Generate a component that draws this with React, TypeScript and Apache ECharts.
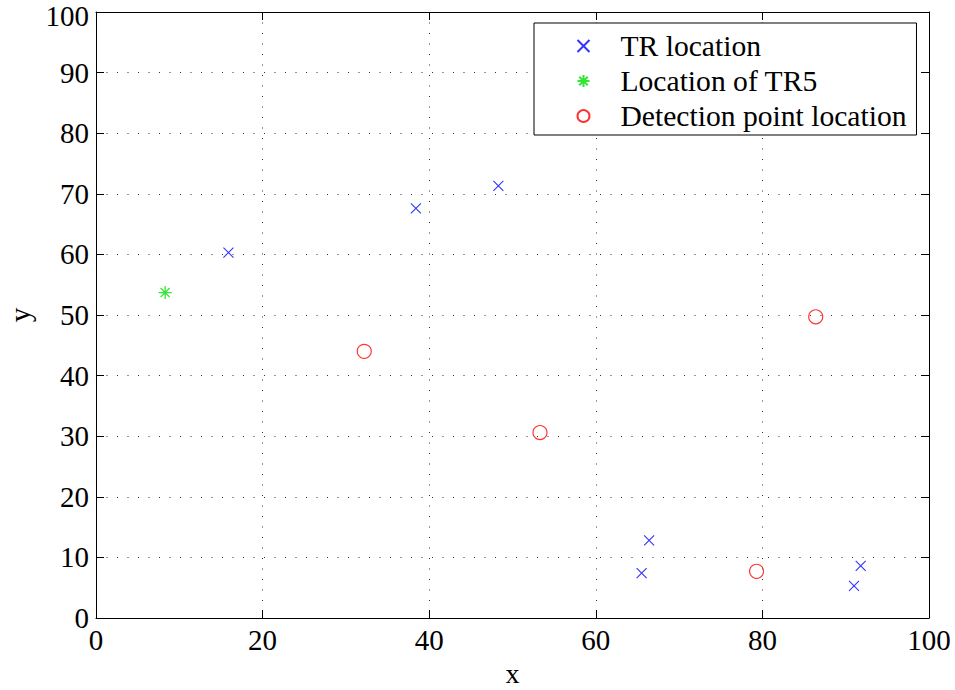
import React, { useEffect, useRef } from "react";
import * as echarts from "echarts";

const trX = [15.9, 38.4, 48.3, 66.4, 65.5, 91.8, 91.0];
const trY = [60.3, 67.6, 71.3, 12.8, 7.4, 8.6, 5.3];
const tr5X = [8.3];
const tr5Y = [53.7];
const detX = [32.2, 53.3, 79.3, 86.4];
const detY = [44.0, 30.6, 7.7, 49.7];
const seriesNames = ["TR location", "Location of TR5", "Detection point location"];

const FONT = "'Liberation Serif', 'Times New Roman', serif";

const zip = (xs: number[], ys: number[]) => xs.map((x, i) => [x, ys[i]]);

export default function App() {
  const ref = useRef<HTMLDivElement>(null);
  useEffect(() => {
    if (!ref.current) return;
    const chart = echarts.init(ref.current, null, { renderer: "svg" });
    const labelStyle = { fontFamily: FONT, fontSize: 29, color: "#000" };
    const splitLine = {
      show: true,
      lineStyle: { color: "#333", width: 1, type: [1, 9.5] as any },
    };
    const tick = { show: true, inside: true, length: 8, lineStyle: { color: "#000", width: 1 } };
    const axisLine = { show: true, onZero: false, lineStyle: { color: "#000", width: 1 } };
    chart.setOption({
      animation: false,
      backgroundColor: "#fff",
      grid: {
        left: 96, right: 26, top: 12, bottom: 72,
        containLabel: false, outerBoundsMode: "none",
      },
      xAxis: [
        {
          type: "value", min: 0, max: 100, interval: 20, position: "bottom",
          name: "x", nameLocation: "middle", nameGap: 45,
          nameTextStyle: { ...labelStyle, fontSize: 28, lineHeight: 20 },
          axisLine, axisTick: tick, splitLine,
          axisLabel: { ...labelStyle, lineHeight: 24, margin: 10 },
        },
        {
          type: "value", min: 0, max: 100, interval: 20, position: "top",
          axisLine, axisTick: tick, splitLine: { show: false }, axisLabel: { show: false },
        },
      ],
      yAxis: [
        {
          type: "value", min: 0, max: 100, interval: 10, position: "left",
          name: "y", nameLocation: "middle", nameGap: 61, nameRotate: 90,
          nameTextStyle: labelStyle,
          axisLine, axisTick: tick, splitLine,
          axisLabel: {
            ...labelStyle, lineHeight: 24, margin: 7,
            formatter: (v: number) => (v === 100 ? "{top|100}" : String(v)),
            rich: { top: { ...labelStyle, lineHeight: 24, padding: [8, 0, 0, 0] } },
          },
        },
        {
          type: "value", min: 0, max: 100, interval: 10, position: "right",
          axisLine, axisTick: tick, splitLine: { show: false }, axisLabel: { show: false },
        },
      ],
      legend: {
        show: true,
        orient: "vertical",
        left: 534,
        top: 23,
        padding: [8, 10, 4, 41],
        itemWidth: 12,
        itemHeight: 12,
        itemGap: 5,
        backgroundColor: "#fff",
        borderColor: "#000",
        borderWidth: 1,
        borderRadius: 0,
        textStyle: { ...labelStyle, fontSize: 29.6, lineHeight: 28, padding: [0, 0, 0, 26] },
        data: seriesNames,
      },
      series: [
        {
          name: seriesNames[0], type: "scatter",
          symbol: "path://M0,0L10,10M0,10L10,0", symbolSize: 10,
          itemStyle: { color: "none", borderColor: "#0000ff", borderWidth: 1.1 },
          data: zip(trX, trY), z: 3,
        },
        {
          name: seriesNames[1], type: "scatter",
          symbol: "path://M5,0L5,10M0,5L10,5M1.5,1.5L8.5,8.5M1.5,8.5L8.5,1.5", symbolSize: 13,
          itemStyle: { color: "none", borderColor: "#00e000", borderWidth: 1.3 },
          data: zip(tr5X, tr5Y), z: 3,
        },
        {
          name: seriesNames[2], type: "scatter",
          symbol: "circle", symbolSize: 14,
          itemStyle: { color: "none", borderColor: "#ff0000", borderWidth: 1.2 },
          data: zip(detX, detY), z: 3,
        },
      ],
    });
    return () => chart.dispose();
  }, []);
  return (
    <div
      ref={ref}
      style={{ position: "fixed", left: 0, top: 0, width: 955, height: 690, background: "#fff" }}
    />
  );
}
